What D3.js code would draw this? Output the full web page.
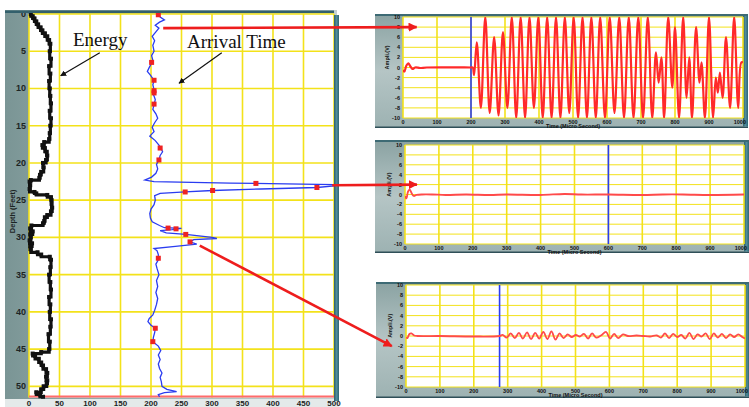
<!DOCTYPE html>
<html>
<head>
<meta charset="utf-8">
<script src="https://cdn.jsdelivr.net/npm/d3@7"></script>
<style>
body { margin: 0; background: #fff; }
svg { display: block; }
</style>
</head>
<body>
<svg id="chart"></svg>
<script>
// ---- left log: energy + arrival time vs depth ----
let energyDepth = [0, 0.3, 0.6, 1.0, 1.4, 1.8, 2.2, 2.6, 3.0, 3.5, 4.0, 5, 6, 7, 8, 9, 10, 11, 12, 13, 14, 15, 16, 16.8, 17.2, 17.6, 18.0, 18.5, 19.0, 19.6, 20.0, 20.6, 21.2, 21.6, 22.0, 22.3, 22.5, 23.0, 23.5, 23.9, 24.1, 24.3, 24.6, 25.0, 25.5, 26, 26.5, 27.0, 27.3, 27.8, 28.1, 28.4, 28.8, 29.2, 29.6, 30, 30.4, 30.8, 31.2, 31.6, 32.0, 32.3, 32.6, 33, 34, 35, 36, 37, 38, 39, 40, 41, 42, 43, 44, 45, 45.4, 45.6, 45.9, 46.3, 46.8, 47.2, 47.7, 48.2, 48.7, 49.2, 49.6, 50.0, 50.4, 50.8, 51.1, 51.4]
let energyValue = [3, 6, 9, 12, 15, 19, 22, 26, 30, 33, 35, 34, 36, 33, 35, 33, 34, 35, 36, 34, 36, 35, 34, 33, 25, 22, 26, 29, 30, 28, 23, 24, 20, 18, 17, 3, 1, 2, 1, 9, 12, 30, 36, 37, 37, 38, 36, 30, 26, 25, 23, 4, 2, 6, 2, 3, 1, 5, 2, 3, 14, 20, 34, 36, 35, 33, 35, 36, 33, 35, 34, 36, 35, 32, 34, 33, 20, 6, 10, 16, 20, 23, 28, 30, 28, 30, 29, 24, 20, 12, 18, 23]

let arrivalDepth = [0.0, 0.4, 0.8, 1.1, 1.5, 1.9, 2.4, 3.0, 3.6, 4.2, 5.0, 5.6, 6.2, 6.6, 7.2, 7.7, 8.2, 8.9, 9.5, 10.2, 10.8, 11.5, 12.2, 12.8, 13.4, 14.0, 14.6, 15.2, 15.8, 16.4, 17.0, 17.6, 18.0, 18.5, 19.0, 19.6, 20.2, 20.8, 21.4, 21.9, 22.3, 22.5, 22.7, 22.9, 23.1, 23.3, 23.5, 23.7, 23.9, 24.1, 24.4, 25.0, 25.6, 26.2, 26.8, 27.4, 27.9, 28.4, 28.7, 28.8, 28.95, 29.1, 29.4, 29.6, 30.0, 30.15, 30.3, 30.6, 30.9, 31.2, 31.5, 31.8, 32.3, 32.6, 33.0, 33.6, 34.2, 35.0, 35.8, 36.6, 37.4, 38.2, 39.0, 39.8, 40.4, 40.9, 41.3, 41.8, 42.2, 42.8, 43.4, 44.0, 44.6, 45.2, 45.8, 46.4, 47.0, 47.6, 48.2, 48.8, 49.4, 50.0, 50.4, 50.7, 50.85, 51.1, 51.4]
let arrivalValue = [212, 215, 222, 214, 207, 213, 208, 202, 206, 203, 205, 201, 203, 201, 197, 194, 199, 205, 203, 205, 204, 207, 205, 203, 208, 211, 206, 202, 205, 198, 207, 213, 216, 219, 215, 213, 209, 211, 208, 201, 190, 205, 330, 500, 500, 472, 380, 301, 256, 215, 206, 207, 205, 200, 198, 199, 202, 214, 222, 250, 235, 215, 225, 257, 300, 308, 270, 264, 275, 240, 205, 210, 212, 212, 212, 208, 210, 213, 209, 211, 208, 211, 209, 206, 203, 197, 195, 200, 207, 206, 204, 203, 212, 216, 212, 215, 212, 214, 218, 215, 217, 218, 226, 242, 222, 212, 214]

let pickDepth = [0.1, 6.5, 8.9, 10.3, 10.6, 12.1, 18.0, 19.6, 22.75, 23.3, 23.7, 23.9, 28.75, 28.85, 29.6, 30.6, 32.8, 42.2, 44.0]
let pickValue = [212, 201, 205, 205, 205, 205, 215, 213, 372, 472, 301, 256, 228, 241, 257, 264, 212, 207, 203]

let depthTicks = [0, 5, 10, 15, 20, 25, 30, 35, 40, 45, 50]
let valueTicks = [0, 50, 100, 150, 200, 250, 300, 350, 400, 450, 500]

// ---- waveforms (time in micro seconds, amplitude) ----
let wave1Time = [0, 4, 10, 16, 22, 28, 36, 50, 70, 200, 205, 209, 217, 229, 242, 255, 268, 281, 294, 307, 320, 333, 346, 359, 372, 385, 398, 411, 424, 437, 450, 463, 476, 489, 502, 515, 528, 541, 554, 567, 580, 594, 608, 622, 636, 650, 664, 678, 692, 706, 720, 733, 744, 752, 760, 768, 780, 792, 800, 812, 824, 834, 842, 850, 862, 872, 878, 888, 900, 912, 920, 926, 932, 940, 950, 962, 974, 986, 995, 1000]
let wave1Value = [-0.5, -0.8, 0.4, 0.8, 0.2, -0.3, 0, -0.1, 0, 0, 0, -1.5, 5, -8, 10, -9, 6, -9.5, 7, -8, 10, -10, 10, -10, 10, -8, 10, -10, 10, -10, 10, -10, 10, -9, 10, -10, 10, -10, 10, -10, 10, -10, 10, -9, 10, -10, 10, -10, 10, -10, 10, -10, 3, -3, 2, -10, 10, -4, 8, -10, 10, -6, 2, -10, 8, -3, 1, -10, 10, -10, -2, -5, -1, -6, 6, -8, 10, -8, 1, 1]

let wave2Time = [0, 4, 9, 14, 20, 26, 34, 50, 80, 120, 180, 250, 300, 400, 470, 520, 600, 700, 760, 820, 900, 1000]
let wave2Value = [-0.3, -0.8, 0.6, 1.0, 0.2, -0.3, -0.1, 0, 0, -0.1, 0, -0.1, 0, -0.1, 0.1, 0, 0, -0.1, 0, 0, -0.1, 0]

let wave3Time = [0, 4, 10, 16, 24, 34, 100, 200, 276, 285, 297, 309, 321, 333, 345, 357, 369, 381, 393, 405, 417, 429, 441, 453, 465, 477, 489, 501, 513, 525, 537, 549, 561, 575, 590, 602, 614, 626, 640, 655, 680, 700, 720, 740, 752, 764, 776, 788, 800, 812, 824, 836, 848, 860, 872, 884, 896, 908, 920, 932, 944, 956, 968, 980, 992, 1000]
let wave3Value = [-0.3, -0.4, 0.4, 0.5, 0.1, 0, 0, -0.1, 0, 0.2, -0.3, 0.5, -0.4, 0.6, -0.5, 0.7, -0.6, 0.6, -0.5, 0.8, -0.6, 0.9, -0.7, 0.5, -0.4, 0.3, -0.2, 0.2, -0.1, 0.4, -0.5, 0.5, -0.3, 0.1, 0.8, -0.5, 0.4, -0.4, 0.3, 0, 0.1, 0, -0.1, 0.1, -0.3, 0.5, -0.4, 0.4, -0.2, 0.2, -0.5, 0.6, -0.6, 0.3, -0.1, 0.5, -0.6, 0.5, -0.3, 0.4, -0.4, 0.3, -0.2, 0.3, -0.2, -0.5]

let pickTimes = [200, 600, 276]
let timeTicks = [0, 100, 200, 300, 400, 500, 600, 700, 800, 900, 1000]
let ampTicks = [10, 8, 6, 4, 2, 0, -2, -4, -6, -8, -10]

const width = 749, height = 407;

const svg = d3.select('#chart')
    .attr('width', width)
    .attr('height', height)
    .style('font-family', 'Liberation Sans, Arial, sans-serif')

const defs = svg.append('defs')

function linGrad(id, stops, horizontal) {
    let gr = defs.append('linearGradient').attr('id', id)
        .attr('x1', 0).attr('y1', 0)
        .attr('x2', horizontal ? 1 : 0).attr('y2', horizontal ? 0 : 1)
    stops.forEach((c, i) => gr.append('stop').attr('offset', i / (stops.length - 1)).attr('stop-color', c))
}
linGrad('frameGrad', ['#7a9595', '#a9bcbc', '#c4d1d1'], true)
linGrad('barGrad', ['#2e5f6c', '#4f8c9a', '#2f6675'], true)
linGrad('panelGrad', ['#8aa2a2', '#b5c5c5', '#9db2b2'], false)

function arrowMarker(id, color, size) {
    defs.append('marker')
        .attr('id', id)
        .attr('viewBox', '0 0 10 10')
        .attr('refX', 9)
        .attr('refY', 5)
        .attr('markerWidth', size)
        .attr('markerHeight', size)
        .attr('markerUnits', 'userSpaceOnUse')
        .attr('orient', 'auto')
        .append('path')
        .attr('d', 'M0,0 L10,5 L0,10 z')
        .attr('fill', color)
}
arrowMarker('redArrow', '#ee1d1d', 9)
arrowMarker('blackArrow', '#111', 6)

// ---------------- left log ----------------
let x = d3.scaleLinear().domain([0, 500]).range([29, 334])
let y = d3.scaleLinear().domain([0, 51.5]).range([14, 397.5])

svg.append('rect').attr('x', 5).attr('y', 10).attr('width', 332).attr('height', 390).attr('fill', 'url(#frameGrad)')
svg.append('rect').attr('x', 5).attr('y', 399).attr('width', 334).attr('height', 8).attr('fill', '#e4eaea')
svg.append('rect').attr('x', x(0)).attr('y', y(0)).attr('width', x(500) - x(0)).attr('height', y(51.5) - y(0)).attr('fill', '#fff')

const g = svg.append('g')

g.selectAll('.vgrid').data(valueTicks).join('line')
    .attr('x1', d => x(d)).attr('x2', d => x(d))
    .attr('y1', y(0)).attr('y2', y(51.5))
    .attr('stroke', '#f3e21a').attr('stroke-width', 1.6)

g.selectAll('.hgrid').data(depthTicks).join('line')
    .attr('x1', x(0)).attr('x2', x(500))
    .attr('y1', d => y(d)).attr('y2', d => y(d))
    .attr('stroke', '#f3e21a').attr('stroke-width', 1.6)

// red line at bottom of log
g.append('line')
    .attr('x1', x(0)).attr('x2', x(500))
    .attr('y1', y(51.5) - 1).attr('y2', y(51.5) - 1)
    .attr('stroke', '#ff6b6b').attr('stroke-width', 2)

// top and right borders
svg.append('rect').attr('x', 5).attr('y', 10.5).attr('width', 329).attr('height', 2.5).attr('fill', '#33606c')
svg.append('rect').attr('x', 334).attr('y', 15).attr('width', 5).attr('height', 386).attr('fill', 'url(#barGrad)')

// ticks
g.selectAll('.ylab').data(depthTicks).join('text')
    .attr('x', 26).attr('y', d => y(d) + 3)
    .attr('text-anchor', 'end')
    .style('font-size', '9px').style('font-weight', 'bold').attr('fill', '#1c2424')
    .text(d => d)

g.selectAll('.xlab').data(valueTicks).join('text')
    .attr('x', d => x(d)).attr('y', 406)
    .attr('text-anchor', 'middle')
    .style('font-size', '8px').style('font-weight', 'bold').attr('fill', '#1c2424')
    .text(d => d)

svg.append('text')
    .attr('transform', `translate(15,${y(26.5)}) rotate(-90)`)
    .attr('text-anchor', 'middle')
    .style('font-size', '7.5px').style('font-weight', 'bold').attr('fill', '#1c2424')
    .text('Depth (Feet)')

// energy curve
let energyLine = d3.line()
    .x((d, i) => x(energyValue[i]))
    .y(d => y(d))
    .curve(d3.curveStepBefore)

g.append('path')
    .datum(energyDepth)
    .attr('d', energyLine)
    .attr('fill', 'none')
    .attr('stroke', '#111')
    .attr('stroke-width', 3.2)

g.selectAll('.eblock').data(energyDepth).join('rect')
    .attr('x', (d, i) => x(energyValue[i]) - 2)
    .attr('y', d => y(d) - 2)
    .attr('width', 4).attr('height', 4)
    .attr('fill', '#111')

// arrival time curve
let arrivalLine = d3.line()
    .x((d, i) => x(arrivalValue[i]))
    .y(d => y(d))

g.append('path')
    .datum(arrivalDepth)
    .attr('d', arrivalLine)
    .attr('fill', 'none')
    .attr('stroke', '#2a3cf0')
    .attr('stroke-width', 1.3)

g.selectAll('.pick').data(pickDepth).join('rect')
    .attr('x', (d, i) => x(pickValue[i]) - 2.5)
    .attr('y', d => y(d) - 2.5)
    .attr('width', 5).attr('height', 5)
    .attr('fill', '#ee2222')

// labels with arrows
g.append('text').attr('x', x(72)).attr('y', y(4.3))
    .style('font-family', 'Liberation Serif, Times New Roman, serif').style('font-size', '19px').attr('fill', '#111')
    .text('Energy')
g.append('line')
    .attr('x1', x(116)).attr('y1', y(5.2)).attr('x2', x(52)).attr('y2', y(8.3))
    .attr('stroke', '#111').attr('stroke-width', 1.2).attr('marker-end', 'url(#blackArrow)')

g.append('text').attr('x', x(259)).attr('y', y(4.5))
    .style('font-family', 'Liberation Serif, Times New Roman, serif').style('font-size', '19px').attr('fill', '#111')
    .text('Arrival Time')
g.append('line')
    .attr('x1', x(316)).attr('y1', y(5.2)).attr('x2', x(246)).attr('y2', y(9.3))
    .attr('stroke', '#111').attr('stroke-width', 1.2).attr('marker-end', 'url(#blackArrow)')

// ---------------- waveform panels ----------------
let panels = [
    { frame: [375, 14, 373, 114], plot: [403, 17, 743, 118], time: wave1Time, value: wave1Value, width: 2.2 },
    { frame: [375, 140, 374, 113], plot: [405, 145, 744, 244], time: wave2Time, value: wave2Value, width: 1.8 },
    { frame: [376, 282, 373, 116], plot: [406, 285, 745, 387], time: wave3Time, value: wave3Value, width: 1.8 }
]

panels.forEach((p, k) => {
    let px = d3.scaleLinear().domain([0, 1000]).range([p.plot[0], p.plot[2]])
    let py = d3.scaleLinear().domain([-10, 10]).range([p.plot[3], p.plot[1]])
    p.x = px
    p.y = py
    let pg = svg.append('g')

    pg.append('rect').attr('x', p.frame[0]).attr('y', p.frame[1]).attr('width', p.frame[2]).attr('height', p.frame[3])
        .attr('fill', 'url(#panelGrad)')
    pg.append('rect').attr('x', p.frame[0]).attr('y', p.frame[1]).attr('width', p.frame[2]).attr('height', 2)
        .attr('fill', '#3d6a74')
    pg.append('rect').attr('x', p.frame[0]).attr('y', p.frame[1] + p.frame[3] - 1.5).attr('width', p.frame[2]).attr('height', 1.5)
        .attr('fill', '#2f4f58')
    pg.append('rect').attr('x', px.range()[0]).attr('y', py.range()[1]).attr('width', px.range()[1] - px.range()[0]).attr('height', py.range()[0] - py.range()[1])
        .attr('fill', '#fff')
    pg.append('rect').attr('x', p.plot[2]).attr('y', p.frame[1] + 2).attr('width', p.frame[0] + p.frame[2] - p.plot[2]).attr('height', p.frame[3] - 3.5)
        .attr('fill', 'url(#barGrad)')

    pg.selectAll('.ph').data(ampTicks).join('line')
        .attr('x1', px(0)).attr('x2', px(1000))
        .attr('y1', d => py(d)).attr('y2', d => py(d))
        .attr('stroke', '#f3e21a').attr('stroke-width', 1)
    pg.selectAll('.pv').data(timeTicks).join('line')
        .attr('x1', d => px(d)).attr('x2', d => px(d))
        .attr('y1', py(10)).attr('y2', py(-10))
        .attr('stroke', '#f3e21a').attr('stroke-width', 1.6)

    pg.append('line')
        .attr('x1', px(pickTimes[k])).attr('x2', px(pickTimes[k]))
        .attr('y1', py(10)).attr('y2', py(-10))
        .attr('stroke', '#2a3cf0').attr('stroke-width', 1.6)

    let clipId = 'clip' + k
    defs.append('clipPath').attr('id', clipId).append('rect')
        .attr('x', px(0)).attr('y', py(10)).attr('width', px(1000) - px(0)).attr('height', py(-10) - py(10))

    let wave = d3.line()
        .x((d, i) => px(d))
        .y((d, i) => py(p.value[i]))
        .curve(d3.curveCatmullRom)

    pg.append('path')
        .datum(p.time)
        .attr('d', wave)
        .attr('clip-path', `url(#${clipId})`)
        .attr('fill', 'none')
        .attr('stroke', k == 0 ? '#ff2a2a' : '#ff4a4a')
        .attr('stroke-width', p.width)

    pg.selectAll('.pyl').data(ampTicks).join('text')
        .attr('x', px(0) - 3).attr('y', d => py(d) + 2)
        .attr('text-anchor', 'end')
        .style('font-size', '5.5px').style('font-weight', 'bold').attr('fill', '#111')
        .text(d => d)
    pg.selectAll('.pxl').data(timeTicks).join('text')
        .attr('x', d => d == 1000 ? px(d) + 3 : px(d)).attr('y', py(-10) + 5.5)
        .attr('text-anchor', d => d == 1000 ? 'end' : 'middle')
        .style('font-size', '5.5px').style('font-weight', 'bold').attr('fill', '#111')
        .text(d => d)
    pg.append('text')
        .attr('x', (px(0) + px(1000)) / 2).attr('y', py(-10) + 10)
        .attr('text-anchor', 'middle')
        .style('font-size', '5.5px').style('font-weight', 'bold').attr('fill', '#111')
        .text('Time (Micro Second)')
    pg.append('text')
        .attr('transform', `translate(${px(0) - 14},${py(2)}) rotate(-90)`)
        .attr('text-anchor', 'middle')
        .style('font-size', '5.5px').style('font-weight', 'bold').attr('fill', '#111')
        .text('Ampli.(V)')
})

// ---------------- red connectors: log depth -> waveform ----------------
let linkValue = [220, 497, 280]
let linkDepth = [1.9, 23.0, 31.1]
let linkTime = [40, 35, -42]
let linkAmp = [8, 2, -2]

linkValue.forEach((v, i) => {
    let p = panels[i]
    svg.append('line')
        .attr('x1', x(v)).attr('y1', y(linkDepth[i]))
        .attr('x2', p.x(linkTime[i])).attr('y2', p.y(linkAmp[i]))
        .attr('stroke', '#ee1d1d')
        .attr('stroke-width', 2.6)
        .attr('marker-end', 'url(#redArrow)')
})
</script>
</body>
</html>
